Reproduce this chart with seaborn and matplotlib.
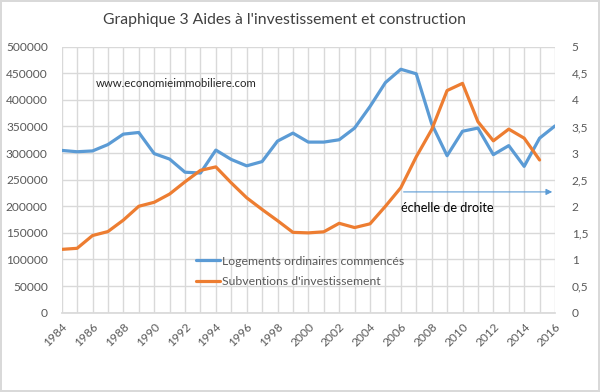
import numpy as np
import pandas as pd
import matplotlib
matplotlib.use("Agg")
import matplotlib.pyplot as plt
import seaborn as sns

sns.set_theme(style="white")
plt.rcParams['font.family'] = ['Lato', 'DejaVu Sans']

years = list(range(1984, 2017))
logements = [305000, 302500, 304000, 316000, 335600, 338700, 299000, 288700, 264000, 262500,
             305600, 288000, 276000, 284000, 322500, 337500, 320600, 320600, 325000, 347000,
             387500, 432500, 457500, 449000, 355000, 295000, 341000, 347000, 297000, 314000,
             275000, 328000, 351000]
# subventions: right scale, no value for 2016
subventions = [1.19, 1.21, 1.45, 1.525, 1.74, 2.0, 2.075, 2.23, 2.46, 2.675,
               2.74, 2.44, 2.16, 1.94, 1.73, 1.51, 1.50, 1.52, 1.68, 1.60,
               1.67, 2.0, 2.35, 2.93, 3.44, 4.175, 4.31, 3.59, 3.23, 3.45,
               3.28, 2.87, np.nan]

df = pd.DataFrame({"annee": years, "logements": logements, "subventions": subventions})

blue = "#5B9BD5"
orange = "#ED7D31"
grey = "#595959"
gridc = "#d9d9d9"

fig = plt.figure(figsize=(6, 3.92), dpi=100, linewidth=1.5, edgecolor=gridc)
ax = fig.add_axes([0.1028, 0.2023, 0.8222, 0.6787])
ax2 = ax.twinx()

# grid on left axis
ax.set_xticks(years, minor=True)
ax.set_xticks(years[::2])
ax.set_yticks(np.arange(0, 500001, 50000))
ax.grid(True, which="both", axis="x", color=gridc, lw=1)
ax.grid(True, which="major", axis="y", color=gridc, lw=1)
ax.set_axisbelow(True)

sns.lineplot(data=df, x="annee", y="logements", ax=ax, color=blue, lw=2.3,
             label="Logements ordinaires commencés", legend=False)
sns.lineplot(data=df, x="annee", y="subventions", ax=ax2, color=orange, lw=2.3,
             label="Subventions d'investissement", legend=False)

ax.set_xlim(1984, 2016)
ax.set_ylim(0, 500000)
ax2.set_ylim(0, 5)
ax2.set_yticks(np.arange(0, 5.01, 0.5))
ax2.set_yticklabels([f"{v:g}".replace(".", ",") for v in np.arange(0, 5.01, 0.5)])
ax.set_yticklabels([f"{int(v)}" for v in np.arange(0, 500001, 50000)])

ax.set_xlabel("")
ax.set_ylabel("")
ax2.set_ylabel("")
for a in (ax, ax2):
    for s in a.spines.values():
        s.set_visible(False)
    a.tick_params(axis="both", which="both", length=0, labelsize=8.6, colors=grey)
ax.spines["bottom"].set_visible(True)
ax.spines["bottom"].set_color(gridc)
ax.tick_params(axis="y", pad=10)
ax2.tick_params(axis="y", pad=12)
plt.setp(ax.get_xticklabels(), rotation=45, ha="right", rotation_mode="anchor")
ax.tick_params(axis="x", pad=6)

fig.text(0.172, 0.948, "Graphique 3 Aides à l'investissement et construction",
         ha="left", va="center", fontsize=11.3, color="#404040")
ax.text(1986.2, 430000, "www.economieimmobiliere.com", fontsize=8.2, color="#262626",
        va="center")

# legend inside the plot
h1, l1 = ax.get_legend_handles_labels()
h2, l2 = ax2.get_legend_handles_labels()
leg = ax.legend(h1 + h2, l1 + l2, loc="center left", bbox_to_anchor=(0.25, 0.155),
                frameon=False, fontsize=8.8, labelcolor=grey, handlelength=2.0,
                handletextpad=0.1, labelspacing=0.8)

ax2.annotate("", xy=(2016, 2.27), xytext=(2006, 2.27),
             arrowprops=dict(arrowstyle="-|>", color=blue, lw=0.8, mutation_scale=9))
ax2.text(2006, 1.97, "échelle de droite", fontsize=9.2, color="black", va="center")

fig.savefig("out.png", dpi=100)
